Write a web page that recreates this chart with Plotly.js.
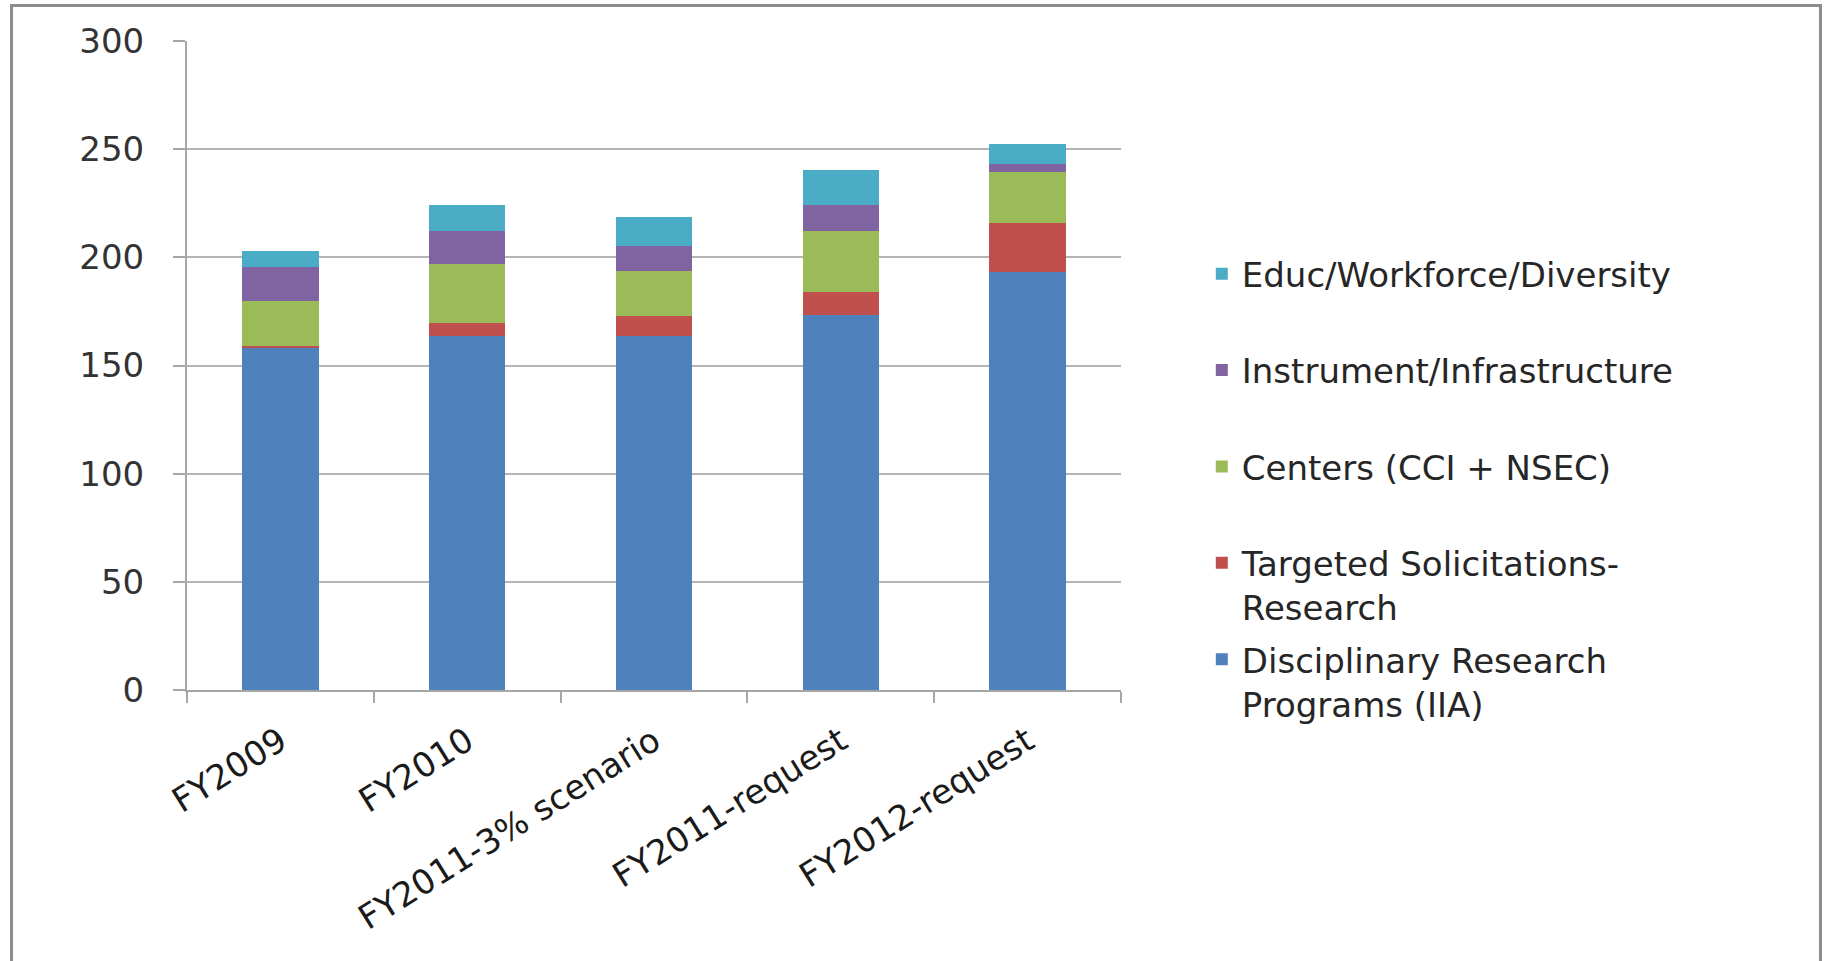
<!DOCTYPE html>
<html>
<head>
<meta charset="utf-8">
<script src="https://cdn.plot.ly/plotly-3.0.1.min.js"></script>
<style>
  html, body { margin: 0; padding: 0; background: #ffffff; overflow: hidden; }
  #chart { width: 1832px; height: 961px; position: absolute; left: 0; top: 0; }
  #frame { position: absolute; left: 10px; top: 4px; width: 1812px; height: 1100px;
           border: 3px solid #8c8c8c; box-sizing: border-box; pointer-events: none; }
</style>
</head>
<body>
<div id="chart"></div>
<div id="frame"></div>
<script>
// Categories (x axis)
const categories = ["FY2009", "FY2010", "FY2011-3% scenario", "FY2011-request", "FY2012-request"];

// Series values (stacked from bottom to top)
const disciplinary = [158.0, 163.6, 163.6, 173.5, 193.3];
const targeted     = [1.0, 6.2, 9.3, 10.6, 22.6];
const centers      = [21.0, 27.0, 20.9, 28.2, 23.7];
const instrument   = [15.4, 15.2, 11.3, 12.0, 3.4];
const educ         = [7.7, 12.2, 13.4, 15.9, 9.2];

// Series names (legend labels)
const seriesNames = [
  "Disciplinary Research<br>Programs (IIA)",
  "Targeted Solicitations-<br>Research",
  "Centers (CCI + NSEC)<br>&nbsp;",
  "Instrument/Infrastructure<br>&nbsp;",
  "Educ/Workforce/Diversity<br>&nbsp;"
];
const seriesValues = [disciplinary, targeted, centers, instrument, educ];
const seriesColors = ["#4F81BD", "#C0504D", "#9BBB59", "#8064A2", "#4BACC6"];

const yTicks = [0, 50, 100, 150, 200, 250, 300];

const traces = seriesValues.map((vals, i) => ({
  type: "bar",
  name: seriesNames[i],
  x: categories,
  y: vals,
  legendgroup: "g" + i,
  legendrank: 1000 - i * 100,
  marker: { color: seriesColors[i], line: { width: 0 } },
  hoverinfo: "x+y"
}));

const layout = {
  width: 1832,
  height: 961,
  autosize: false,
  paper_bgcolor: "rgba(0,0,0,0)",
  plot_bgcolor: "#ffffff",
  margin: { l: 187, r: 711, t: 41, b: 271, pad: 0 },
  barmode: "stack",
  bargap: 0.59,
  showlegend: true,
  legend: {
    xref: "container", yref: "container",
    x: 0.656, y: 0.745, xanchor: "left", yanchor: "top",
    traceorder: "grouped",
    tracegroupgap: 5,
    valign: "top",
    font: { family: "DejaVu Sans", size: 34, color: "#262626" },
    bgcolor: "rgba(0,0,0,0)"
  },
  xaxis: {
    type: "category",
    range: [-0.5, 4.5],
    showgrid: false,
    showline: true, linecolor: "#a6a6a6", linewidth: 2,
    ticks: "outside", tickson: "boundaries", ticklen: 11, tickcolor: "#a6a6a6", tickwidth: 2,
    tickangle: -32,
    ticklabelstandoff: 16,
    tickfont: { family: "DejaVu Sans", size: 34, color: "#1a1a1a" },
    zeroline: false
  },
  yaxis: {
    range: [0, 300],
    tickvals: yTicks,
    ticktext: yTicks.map(String),
    showgrid: true, gridcolor: "#b4b4b4", gridwidth: 2,
    showline: true, linecolor: "#a6a6a6", linewidth: 2,
    ticks: "outside", ticklen: 12, tickcolor: "#a6a6a6", tickwidth: 2,
    ticklabelstandoff: 22,
    tickfont: { family: "DejaVu Sans", size: 34, color: "#333333" },
    zeroline: false
  }
};

Plotly.newPlot("chart", traces, layout, { displayModeBar: false, staticPlot: true });
</script>
</body>
</html>
